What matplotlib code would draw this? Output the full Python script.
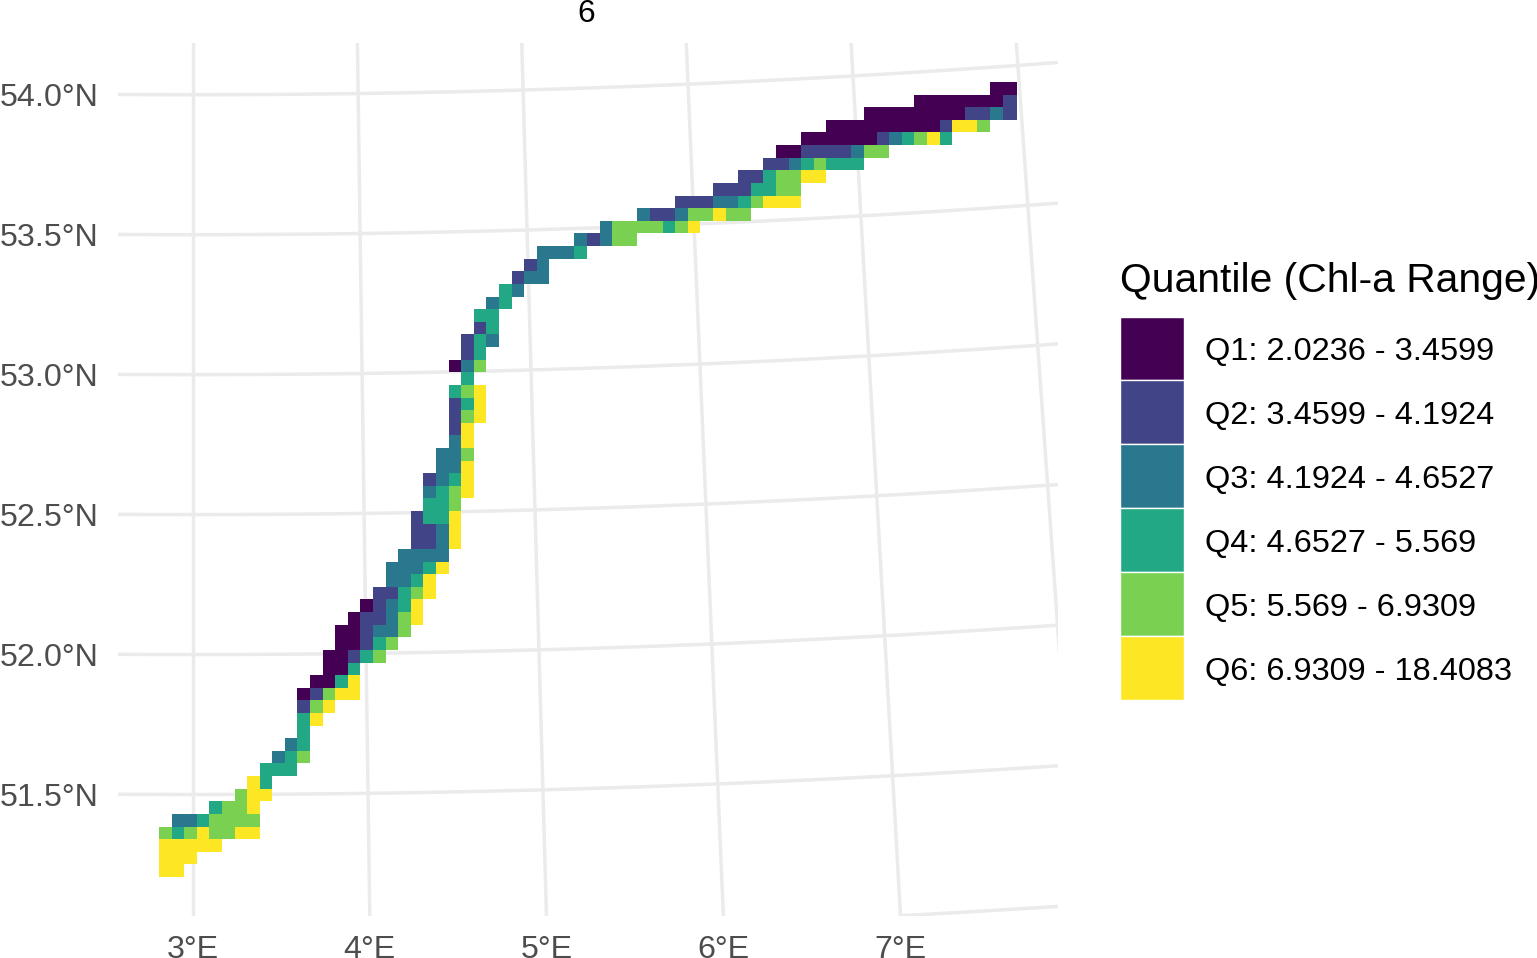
import numpy as np
from matplotlib import pyplot as plt
from matplotlib.colors import ListedColormap

plt.rcParams["font.family"] = ["Liberation Sans", "DejaVu Sans"]

# quantile classes
legend_title = "Quantile (Chl-a Range)"
quantile_labels = [
    "Q1: 2.0236 - 3.4599",
    "Q2: 3.4599 - 4.1924",
    "Q3: 4.1924 - 4.6527",
    "Q4: 4.6527 - 5.569",
    "Q5: 5.569 - 6.9309",
    "Q6: 6.9309 - 18.4083",
]
quantile_colors = ["#440154", "#414487", "#2A788E", "#22A884", "#7AD151", "#FDE725"]

# raster, one entry per row from north to south:
# first occupied column and the quantile of each cell after it
row_start = [
    66, 60, 56, 53, 51, 49, 48, 46, 44, 41, 38, 35, 33, 30, 29, 28,
    27, 26, 25, 25, 24, 24, 23, 24, 23, 23, 23, 23, 23, 22, 22, 21,
    21, 21, 20, 20, 20, 19, 18, 18, 17, 16, 15, 14, 14, 13, 13, 12,
    11, 11, 11, 11, 10, 9, 8, 7, 6, 4, 1, 0, 0, 0, 0,
]
row_quantiles = [
    "11", "11111112", "111111112232", "1111111112665", "111111234564",
    "11222235" + "5", "22345444", "2245566", "2224455", "222334566" + "6",
    "322355655", "35555456", "32355", "3334", "23", "233",
    "43", "34", "44", "24", "243", "24", "135", "4", "456", "246",
    "256", "26", "36", "335", "336", "2346",
    "3456", "445", "2446", "2236", "2236", "3333", "33346", "3346",
    "22456", "12346", "122356", "112335", "11245", "11245", "114", "1146",
    "12566", "256", "46", "4", "34", "345", "444", "64", "566", "4556",
    "3345555", "54565566", "66666", "666", "66",
]

lon_ticks = [3, 4, 5, 6, 7]
lon_lines = [3, 4, 5, 6, 7, 8]
lat_ticks = [51.5, 52.0, 52.5, 53.0, 53.5, 54.0]
lat_lines = [51.5, 52.0, 52.5, 53.0, 53.5, 54.0]

W, H = 1537, 958
px_per_km = 2.524
cell_w = 12.59 / px_per_km
cell_h = 12.62 / px_per_km
origin_px = (193.2, 794.5)  # where 3E, 51.5N lands in the picture
grid_x0 = (159 - origin_px[0]) / px_per_km
grid_y_top = (origin_px[1] - 82) / px_per_km


def project(lon, lat):
    # conic-like projection around 3E, result in km from (3E, 51.5N)
    lon = np.asarray(lon, dtype=float)
    lat = np.asarray(lat, dtype=float)
    x = (lon - 3) * (69.95 - (lat - 51.07) * 1.57)
    y = (lat - 51.5) * 110.9 + 0.465 * (lon - 3) ** 2
    return x, y


n_rows = len(row_start)
n_cols = max(s + len(q) for s, q in zip(row_start, row_quantiles))
grid = np.full((n_rows, n_cols), np.nan)
for r, (s, q) in enumerate(zip(row_start, row_quantiles)):
    for i, code in enumerate(q):
        grid[r, s + i] = int(code) - 1

x_edges = grid_x0 + cell_w * np.arange(n_cols + 1)
x_edges[-1] += 1.6 / px_per_km  # easternmost column is a bit wider
y_edges = grid_y_top - cell_h * np.arange(n_rows + 1)

fig = plt.figure(figsize=(W / 100, H / 100), dpi=100)
ax = fig.add_axes([118 / W, 1 - 916 / H, 940 / W, 873 / H])

grey = "#EBEBEB"
for lon in lon_lines:
    px, py = project(lon, np.linspace(51, 55, 100))
    ax.plot(px, py, color=grey, lw=2.5, zorder=1, solid_capstyle="butt")
for lat in lat_lines:
    px, py = project(np.linspace(1, 9, 100), lat)
    ax.plot(px, py, color=grey, lw=2.5, zorder=1)
# the 51N parallel only enters the panel east of 7E
px, py = project(np.linspace(7, 9, 50), 51.0)
ax.plot(px, py, color=grey, lw=2.5, zorder=1, solid_capstyle="projecting")

ax.pcolormesh(x_edges, y_edges, grid, cmap=ListedColormap(quantile_colors),
              vmin=-0.5, vmax=5.5, zorder=2, linewidth=0)

x_low, x_high = (118 - origin_px[0]) / px_per_km, (1058 - origin_px[0]) / px_per_km
y_low, y_high = (origin_px[1] - 916) / px_per_km, (origin_px[1] - 43) / px_per_km
ax.set_xlim(x_low, x_high)
ax.set_ylim(y_low, y_high)

# ticks sit where the graticule meets the panel edge
ax.set_xticks([(193 - origin_px[0] + l * 176.75) / px_per_km for l in range(5)])
ax.set_xticklabels([f"{l}°E" for l in lon_ticks])
ax.set_yticks([float(project(3, l)[1]) for l in lat_ticks])
ax.set_yticklabels([f"{l:.1f}°N" for l in lat_ticks])
ax.tick_params(length=0, labelsize=23.2, labelcolor="#4D4D4D", pad=14)
for s in ax.spines.values():
    s.set_visible(False)

ax.set_title("6", fontsize=22.8, color="black", pad=15, x=0.4985)

# legend: a small stacked bar for the keys, labels next to it
key_ax = fig.add_axes([1119.5 / W, 1 - 700 / H, 64 / W, 383.5 / H])
key_ax.barh(range(len(quantile_colors)), 1, height=1, color=quantile_colors,
            edgecolor="white", linewidth=1)
key_ax.set_xlim(0, 1)
key_ax.set_ylim(len(quantile_colors) - 0.5, -0.5)
key_ax.axis("off")
for i, label in enumerate(quantile_labels):
    key_ax.text(1 + 21.5 / 64, i, label, fontsize=23.4, color="black",
                va="center_baseline", ha="left")
fig.text(1119.5 / W, 1 - 291.5 / H, legend_title, fontsize=29.3, color="black",
         va="baseline", ha="left")

fig.savefig("out.png", dpi=100)
